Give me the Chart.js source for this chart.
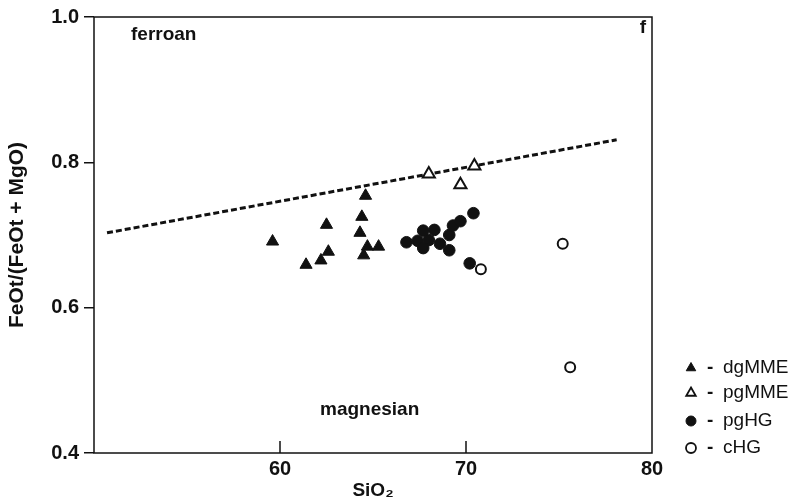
<!DOCTYPE html>
<html>
<head>
<meta charset="utf-8">
<script src="https://cdn.jsdelivr.net/npm/chart.js@4"></script>
<style>
  body { margin: 0; background: #fff; }
</style>
</head>
<body>
<canvas id="myChart" width="794" height="504"></canvas>
<script>
// data
var dgX = [59.6, 61.4, 62.2, 62.6, 62.5, 64.6, 64.4, 64.3, 64.7, 64.5, 65.3];
var dgY = [0.691, 0.659, 0.665, 0.677, 0.714, 0.754, 0.725, 0.703, 0.684, 0.672, 0.684];
var pgmX = [68.0, 70.45, 69.7];
var pgmY = [0.784, 0.795, 0.769];
var pghX = [66.8, 67.4, 67.7, 68.3, 68.0, 67.7, 68.6, 69.1, 69.1, 69.3, 69.7, 70.4, 70.2];
var pghY = [0.690, 0.692, 0.706, 0.707, 0.693, 0.682, 0.688, 0.679, 0.700, 0.713, 0.719, 0.730, 0.661];
var chgX = [70.8, 75.2, 75.6];
var chgY = [0.653, 0.688, 0.518];
var lineX = [50.7, 78.1];
var lineY = [0.703, 0.831];
var xTicks = [60, 70, 80];
var yTicks = [0.4, 0.6, 0.8, 1.0];
var seriesNames = ['dgMME', 'pgMME', 'pgHG', 'cHG'];

var ink = '#111';
var fontFam = '"Liberation Sans", Arial, sans-serif';

function pts(xs, ys) {
	var out = [];
	for (var i in xs) out.push({x: xs[i], y: ys[i]});
	return out;
}

var datasets = [
	{ label: seriesNames[0], data: pts(dgX, dgY), pointStyle: 'triangle', pointRadius: 7,
	  backgroundColor: ink, borderColor: ink, borderWidth: 1 },
	{ label: seriesNames[1], data: pts(pgmX, pgmY), pointStyle: 'triangle', pointRadius: 7,
	  backgroundColor: '#fff', borderColor: ink, borderWidth: 2 },
	{ label: seriesNames[2], data: pts(pghX, pghY), pointStyle: 'circle', pointRadius: 5.8,
	  backgroundColor: ink, borderColor: ink, borderWidth: 1 },
	{ label: seriesNames[3], data: pts(chgX, chgY), pointStyle: 'circle', pointRadius: 5,
	  backgroundColor: '#fff', borderColor: ink, borderWidth: 2 },
	{ type: 'line', label: 'divide', data: pts(lineX, lineY), borderColor: ink, borderWidth: 3,
	  borderDash: [6, 3], pointRadius: 0, fill: false }
];

var extras = {
	id: 'extras',
	afterDatasetsDraw: function(chart) {
		var ctx = chart.ctx, a = chart.chartArea;
		var xs = chart.scales.x;
		ctx.save();
		ctx.strokeStyle = ink;
		ctx.lineWidth = 1.5;
		ctx.strokeRect(a.left, a.top, a.right - a.left, a.bottom - a.top);
		// inward ticks on x axis
		[60, 70].forEach(function(v) {
			var px = xs.getPixelForValue(v);
			ctx.beginPath();
			ctx.moveTo(px, a.bottom);
			ctx.lineTo(px, a.bottom - 12);
			ctx.stroke();
		});
		ctx.fillStyle = ink;
		ctx.textBaseline = 'middle';
		ctx.textAlign = 'left';
		ctx.font = 'bold 19px ' + fontFam;
		ctx.fillText('ferroan', 131, 35);
		ctx.fillText('magnesian', 320, 410);
		ctx.textAlign = 'center';
		ctx.fillText('f', 643, 28);

		// legend
		var rows = [368, 393, 421, 448];
		ctx.textAlign = 'left';
		for (var i = 0; i < 4; i++) {
			var ds = datasets[i];
			ctx.fillStyle = ds.backgroundColor;
			ctx.strokeStyle = ink;
			ctx.lineWidth = ds.borderWidth === 2 ? 1.8 : 1;
			Chart.helpers.drawPoint(ctx, {
				pointStyle: ds.pointStyle, radius: ds.pointStyle === 'triangle' ? 5.5 : 5,
				borderWidth: ctx.lineWidth
			}, 691, rows[i]);
			ctx.fillStyle = ink;
			ctx.font = 'bold 19px ' + fontFam;
			ctx.fillText('-', 707, rows[i]);
			ctx.font = '19px ' + fontFam;
			ctx.fillText(ds.label, 723, rows[i]);
		}
		ctx.restore();
	}
};

var ctx = document.getElementById('myChart');
var chart = new Chart(ctx, {
	type: 'scatter',
	data: { datasets: datasets },
	options: {
		responsive: false,
		animation: false,
		devicePixelRatio: 1,
		layout: { padding: { top: 16, right: 142, left: 0, bottom: 0 } },
		plugins: { legend: { display: false }, tooltip: { enabled: false } },
		scales: {
			x: {
				type: 'linear', min: 50, max: 80,
				afterFit: function(s) { s.height = 51; },
				afterBuildTicks: function(s) {
					s.ticks = [50].concat(xTicks).map(function(v) { return {value: v}; });
				},
				grid: { display: false, drawTicks: false },
				border: { display: false },
				ticks: {
					padding: 4, color: ink,
					font: { family: fontFam, size: 20, weight: 'bold' },
					callback: function(v) { return v === 50 ? '' : v; }
				},
				title: {
					display: true, text: 'SiO\u2082', color: ink,
					font: { family: fontFam, size: 19, weight: 'bold' },
					padding: { top: 0, bottom: 2 }
				}
			},
			y: {
				type: 'linear', min: 0.4, max: 1.0,
				afterFit: function(s) { s.width = 94; },
				afterBuildTicks: function(s) {
					s.ticks = yTicks.map(function(v) { return {value: v}; });
				},
				grid: { drawOnChartArea: false, drawTicks: true, tickLength: 10, color: ink, lineWidth: 1.5 },
				border: { display: false },
				ticks: {
					padding: 5, color: ink,
					font: { family: fontFam, size: 20, weight: 'bold' },
					callback: function(v) { return Number(v).toFixed(1); }
				},
				title: {
					display: true, text: 'FeOt/(FeOt + MgO)', color: ink,
					font: { family: fontFam, size: 21, weight: 'bold' },
					padding: { top: 5, bottom: 0 }
				}
			}
		}
	},
	plugins: [extras]
});
</script>
</body>
</html>
